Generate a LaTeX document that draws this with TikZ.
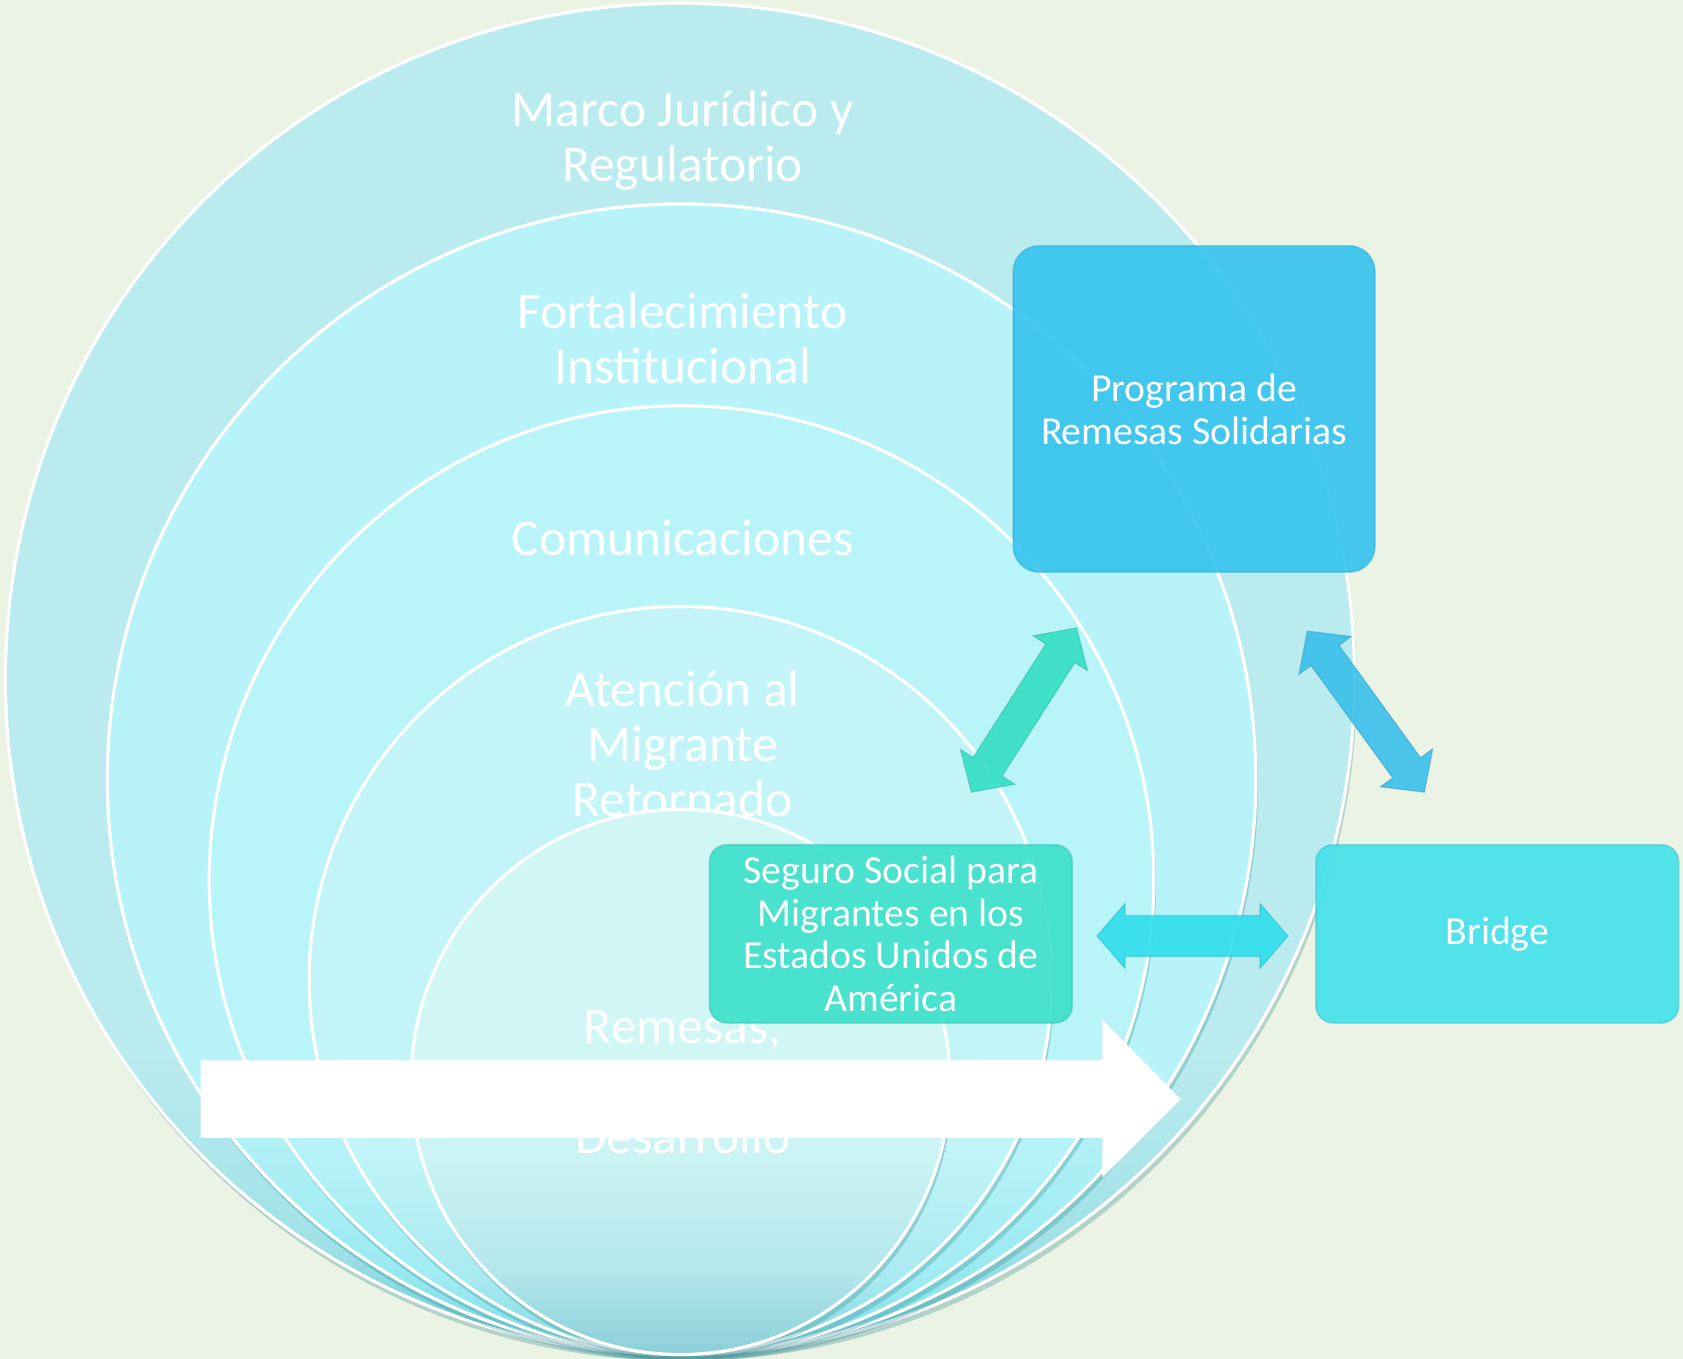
\documentclass[tikz,border=0pt]{standalone}
\usepackage{fontspec}
\setmainfont{Carlito}
\usetikzlibrary{calc}
\definecolor{bg}{HTML}{EAF3E4}
\definecolor{eA}{HTML}{BAEBEE}
\definecolor{eAm}{HTML}{9FE1E7}
\definecolor{eAd}{HTML}{6CCDD6}
\definecolor{eB}{HTML}{B7F3F8}
\definecolor{eBm}{HTML}{9CEAF1}
\definecolor{eBd}{HTML}{6FDAE4}
\definecolor{eC}{HTML}{B9F4F9}
\definecolor{eCm}{HTML}{A0EBF2}
\definecolor{eCd}{HTML}{76DBE5}
\definecolor{eD}{HTML}{C3F5F8}
\definecolor{eDm}{HTML}{A8EAF0}
\definecolor{eDd}{HTML}{80D8E1}
\definecolor{eE}{HTML}{D1F6F6}
\definecolor{eEm}{HTML}{B4E8EC}
\definecolor{eEd}{HTML}{8ACFD8}
\definecolor{shad}{HTML}{3F8F96}
\definecolor{progc}{HTML}{38C4EE}
\definecolor{segc}{HTML}{3EE1CB}
\definecolor{bridc}{HTML}{46E1EB}
\definecolor{greenar}{HTML}{37DFC6}
\definecolor{bluear}{HTML}{3EC1EB}
\definecolor{cyanar}{HTML}{33DFEC}
\pgfdeclareverticalshading{shA}{100bp}{color(0bp)=(eAd); color(25bp)=(eAd); color(29bp)=(eAm); color(36bp)=(eA); color(100bp)=(eA)}
\pgfdeclareverticalshading{shB}{100bp}{color(0bp)=(eBd); color(25bp)=(eBd); color(29bp)=(eBm); color(36bp)=(eB); color(100bp)=(eB)}
\pgfdeclareverticalshading{shC}{100bp}{color(0bp)=(eCd); color(25bp)=(eCd); color(29bp)=(eCm); color(37bp)=(eC); color(100bp)=(eC)}
\pgfdeclareverticalshading{shD}{100bp}{color(0bp)=(eDd); color(25bp)=(eDd); color(30bp)=(eDm); color(39bp)=(eD); color(100bp)=(eD)}
\pgfdeclareverticalshading{shE}{100bp}{color(0bp)=(eEd); color(25bp)=(eEd); color(33bp)=(eEm); color(46bp)=(eE); color(100bp)=(eE)}
\tikzset{
  lab/.style={text=white, align=center, inner sep=0pt, font=\fontsize{24}{25.5}\selectfont},
  boxtext/.style={text=white, align=center, inner sep=0pt, font=\fontsize{18.5}{20}\selectfont},
  rim/.style={draw=white, line width=1.5pt},
  shadowell/.style={fill=shad, opacity=0.32},
  boxstyle/.style={boxtext, fill opacity=0.92, text opacity=1, draw opacity=0.45, line width=0.8pt},
  arrowstyle/.style={fill opacity=0.93, draw opacity=0.45, line width=0.6pt}
}
\newcommand{\dblarrow}[6]{%
  \coordinate (da1) at ($(#1)!#3!(#2)$);
  \coordinate (da2) at ($(#2)!#3!(#1)$);
  \filldraw[arrowstyle, fill=#6, draw=#6!80!black] (#1) -- ($(da1)!#5!90:(#2)$) -- ($(da1)!#4!90:(#2)$)
    -- ($(da2)!#4!-90:(#1)$) -- ($(da2)!#5!-90:(#1)$) -- (#2)
    -- ($(da2)!#5!90:(#1)$) -- ($(da2)!#4!90:(#1)$)
    -- ($(da1)!#4!-90:(#2)$) -- ($(da1)!#5!-90:(#2)$) -- cycle;
}
\begin{document}
\begin{tikzpicture}[x=0.5pt,y=-0.5pt]
\useasboundingbox (0,0) rectangle (1568,1266);
\fill[bg] (0,0) rectangle (1568,1266);
% centres
\coordinate (c1) at (633.5,632.5);
\coordinate (c2) at (635,726);
\coordinate (c3) at (635,820);
\coordinate (c4) at (634,913);
\coordinate (c5) at (634,1008);
% ellipse 1
\fill[shadowell] ([yshift=-3pt,xshift=1pt]c1) ellipse [x radius=314.25pt, y radius=314.75pt];
\path[shading=shA, rim] (c1) ellipse [x radius=314.25pt, y radius=314.75pt];
\node[lab] (t1) at (636,131) {Marco Jurídico y\\Regulatorio};
% ellipse 2
\fill[shadowell] ([yshift=-3pt,xshift=1pt]c2) ellipse [x radius=267.5pt, y radius=268pt];
\path[shading=shB, rim] (c2) ellipse [x radius=267.5pt, y radius=268pt];
\node[lab] (t2) at (636,315) {Fortalecimiento\\Institucional};
% ellipse 3
\fill[shadowell] ([yshift=-3pt,xshift=1pt]c3) ellipse [x radius=220pt, y radius=221pt];
\path[shading=shC, rim] (c3) ellipse [x radius=220pt, y radius=221pt];
\node[lab] (t3) at (636,501) {Comunicaciones};
% ellipse 4
\fill[shadowell] ([yshift=-3pt,xshift=1pt]c4) ellipse [x radius=173pt, y radius=174pt];
\path[shading=shD, rim] (c4) ellipse [x radius=173pt, y radius=174pt];
\node[lab] (t4) at (636,693) {Atención al\\Migrante\\Retornado};
% ellipse 5
\fill[shadowell] ([yshift=-3pt,xshift=1pt]c5) ellipse [x radius=125.5pt, y radius=127pt];
\path[shading=shE, rim] (c5) ellipse [x radius=125.5pt, y radius=127pt];
\node[lab] (t5) at (636,1008) {Remesas,\\[25.5pt]Desarrollo};
% boxes
\node[boxstyle, fill=progc, draw=progc!85!black, minimum width=168.5pt, minimum height=152pt, rounded corners=12pt] (prog) at (1112.5,381) {Programa de\\Remesas Solidarias};
\node[boxstyle, fill=segc, draw=segc!85!black, minimum width=169pt, minimum height=83pt, rounded corners=8pt] (seg) at (830,870) {Seguro Social para\\Migrantes en los\\Estados Unidos de\\América};
\node[boxstyle, fill=bridc, draw=bridc!85!black, minimum width=169pt, minimum height=83pt, rounded corners=8pt] (brid) at (1395,870) {\raisebox{-2pt}{Bridge}};
% double arrows
\coordinate (ga) at (905,738);
\coordinate (gb) at (1003,585);
\coordinate (ba) at (1218,588);
\coordinate (bb) at (1327,738);
\coordinate (ca) at (1022,872);
\coordinate (cb) at (1200,872);
\dblarrow{ga}{gb}{14pt}{8pt}{15pt}{greenar}
\dblarrow{ba}{bb}{14pt}{8pt}{15pt}{bluear}
\dblarrow{ca}{cb}{13pt}{9.5pt}{15pt}{cyanar}
% big white arrow
\fill[white] (187,988) -- (1027,988) -- (1027,950) -- (1100,1024) -- (1027,1097) -- (1027,1060) -- (187,1060) -- cycle;
\end{tikzpicture}
\end{document}
